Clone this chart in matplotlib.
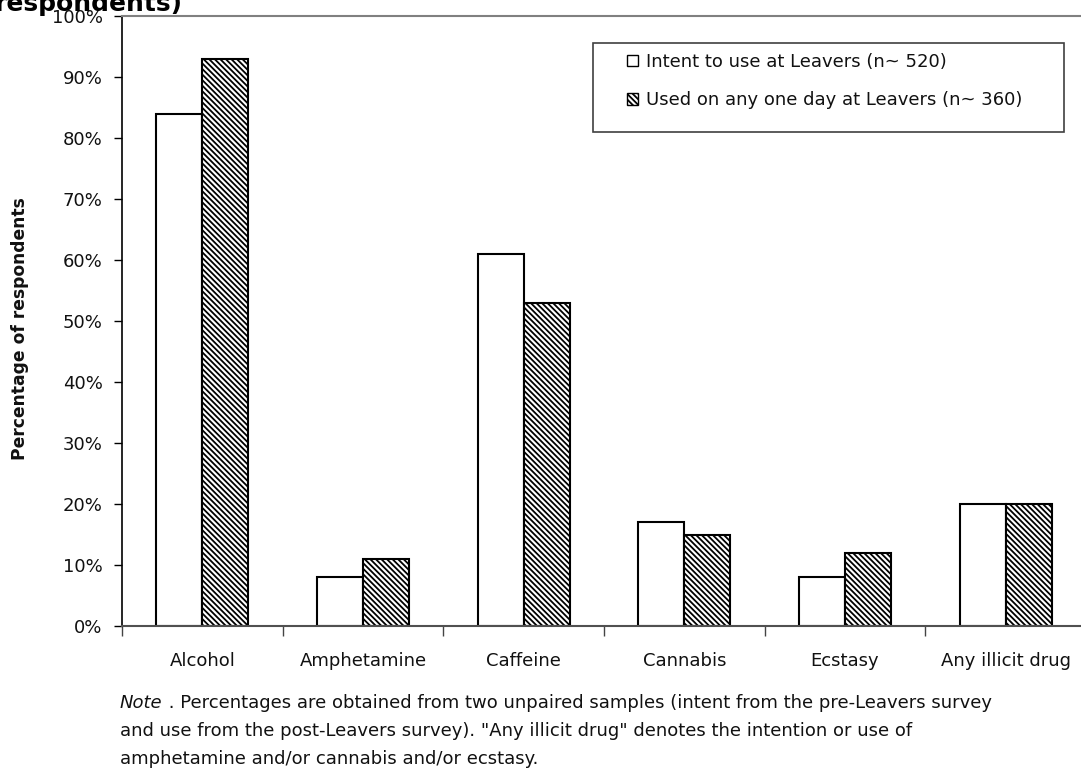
import matplotlib
matplotlib.use('Agg')
import numpy as np
import matplotlib.pyplot as plt
from matplotlib.patches import Patch, Rectangle

plt.rcParams['font.family'] = ['DejaVu Sans']
plt.rcParams['hatch.linewidth'] = 1.3

categories = ['Alcohol', 'Amphetamine', 'Caffeine', 'Cannabis', 'Ecstasy', 'Any illicit drug']
intent = [84, 8, 61, 17, 8, 20]
used = [93, 11, 53, 15, 12, 20]
series_labels = ['Intent to use at Leavers (n~ 520)', 'Used on any one day at Leavers (n~ 360)']
yticks = np.arange(0, 101, 10)
note_lines = [' . Percentages are obtained from two unpaired samples (intent from the pre-Leavers survey',
              'and use from the post-Leavers survey). "Any illicit drug" denotes the intention or use of',
              'amphetamine and/or cannabis and/or ecstasy.']

W, H = 1081, 769
fs = 13
bw = 0.286
hatch = '\\' * 6
txt = '#111111'

fig = plt.figure(figsize=(W / 100, H / 100), dpi=100)
ax = fig.add_axes([122 / W, 1 - 626 / H, 964 / W, 610 / H])

x = np.arange(len(categories))
ax.bar(x - bw / 2, intent, bw, color='white', edgecolor='black', linewidth=1.5)
ax.bar(x + bw / 2, used, bw, color='white', edgecolor='black', linewidth=1.5, hatch=hatch)

ax.set_xlim(-0.5, len(categories) - 0.5)
ax.set_ylim(0, 100)
ax.set_yticks(yticks)
ax.set_yticklabels(['%d%%' % v for v in yticks], fontsize=fs, color=txt)
ax.tick_params(axis='y', direction='out', length=6, width=1, pad=8)

# category labels at centres, tick marks between groups
ax.set_xticks(x)
ax.set_xticklabels(categories, fontsize=fs, color=txt)
ax.tick_params(axis='x', which='major', length=0, pad=19)
ax.set_xticks(np.arange(len(categories) + 1) - 0.5, minor=True)
ax.tick_params(axis='x', which='minor', direction='out', length=7, width=1, color='#444444')

ax.spines['left'].set_color('black')
ax.spines['left'].set_linewidth(1.2)
for s in ['top', 'right', 'bottom']:
    ax.spines[s].set_color('#808080')
    ax.spines[s].set_linewidth(1.5)
ax.spines['bottom'].set_color('#505050')

fig.text(20 / W, 1 - 329 / H, 'Percentage of respondents', fontsize=12.3, fontweight='bold',
         rotation=90, ha='center', va='center', color=txt)

# legend: box drawn separately so the inner margins can be set freely
fig.patches.append(Rectangle((593 / W, 1 - 132 / H), 471 / W, 89 / H, transform=fig.transFigure,
                             facecolor='white', edgecolor='#404040', linewidth=1.2, zorder=3))
handles = [Patch(facecolor='white', edgecolor='black', linewidth=1),
           Patch(facecolor='white', edgecolor='black', linewidth=1, hatch=hatch)]
leg = fig.legend(handles, series_labels, loc='center left',
                 bbox_to_anchor=(627 / W, 1 - 81 / H), fontsize=fs, frameon=False,
                 handlelength=0.6, handleheight=0.6, handletextpad=0.45,
                 labelspacing=1.15, borderpad=0, borderaxespad=0)
leg.set_zorder(4)
for t in leg.get_texts():
    t.set_color(txt)

fig.text(-5 / W, 1 - 11 / H, 'respondents)', fontsize=18, fontweight='bold', va='baseline')

# note under the chart, first word in italics
y0 = 1 - 703 / H
note = fig.text(120 / W, y0, 'Note', fontsize=fs, style='italic', va='center', color=txt)
fig.canvas.draw()
bb = note.get_window_extent()
fig.text(bb.x1 / W, y0, note_lines[0], fontsize=fs, va='center', color=txt)
for i, line in enumerate(note_lines[1:]):
    fig.text(120 / W, y0 - (i + 1) * 28 / H, line, fontsize=fs, va='center', color=txt)

plt.savefig('out.png', dpi=100)
